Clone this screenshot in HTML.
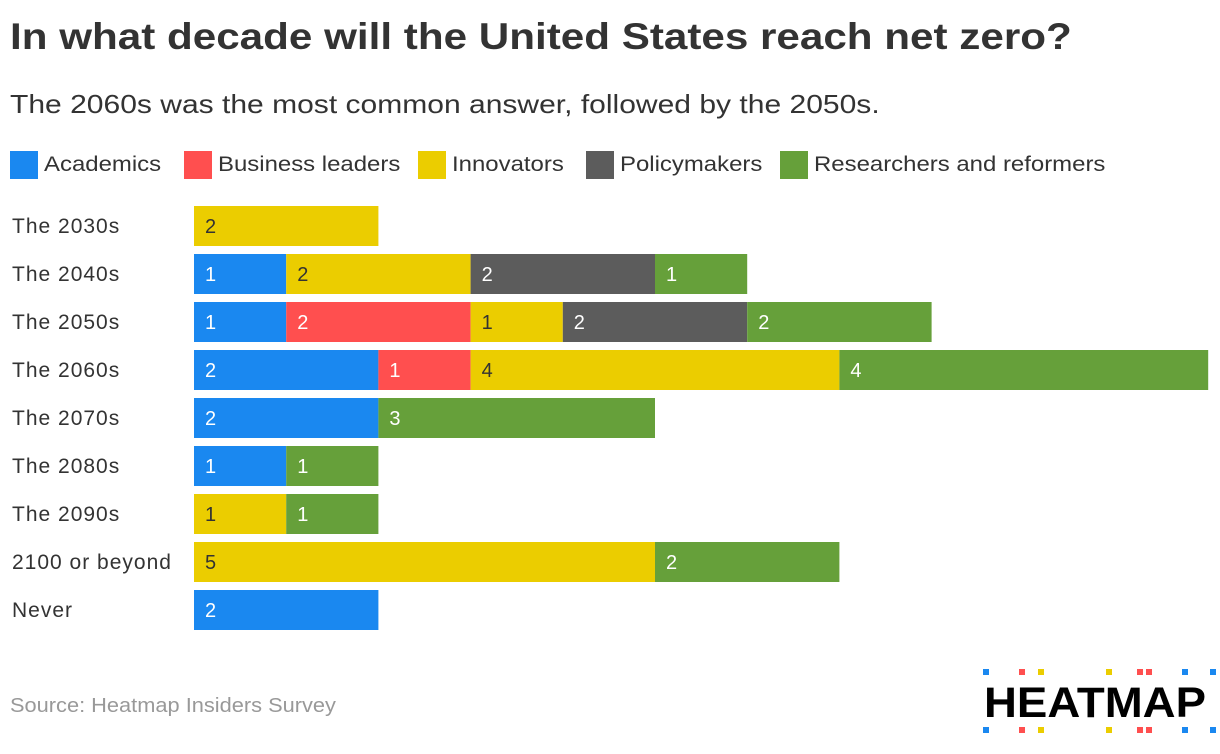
<!DOCTYPE html>
<html><head><meta charset="utf-8"><style>
body{margin:0;width:1220px;height:754px;background:#fff;font-family:"Liberation Sans",sans-serif;color:#333;position:relative;overflow:hidden}
.t{position:absolute;white-space:nowrap;transform-origin:0 0}
.leg{position:absolute;top:151px;height:28px;display:flex;align-items:center;font-size:21px;color:#333;white-space:nowrap}
.leg span{display:inline-block;transform:scaleX(1.14);transform-origin:0 50%}
.sw{width:28px;height:28px;margin-right:6px}
</style></head><body>
<div class="t" style="left:10px;top:16px;font-size:37px;font-weight:bold;color:#333;transform:scaleX(1.14)">In what decade will the United States reach net zero?</div>
<div class="t" style="left:10px;top:89px;font-size:26px;color:#333;transform:scaleX(1.155)">The 2060s was the most common answer, followed by the 2050s.</div>
<div id="legend"></div>
<svg id="chart" width="1220" height="754" style="position:absolute;left:0;top:0"></svg>
<div class="t" style="left:10px;top:695px;font-size:20px;color:#999;transform:scaleX(1.09)">Source: Heatmap Insiders Survey</div>
<div style="position:absolute;left:976px;top:664px;width:240px;height:80px">
<div class="t" style="left:8px;top:15px;font-size:43px;font-weight:bold;color:#000;transform:scaleX(1.06)">HEATMAP</div>
<svg width="240" height="80" style="position:absolute;left:0;top:0" id="logodots"></svg>
</div>
<script>
const categories=["The 2030s","The 2040s","The 2050s","The 2060s","The 2070s","The 2080s","The 2090s","2100 or beyond","Never"];
const seriesNames=["Academics","Business leaders","Innovators","Policymakers","Researchers and reformers"];
const academics=[0,1,1,2,2,1,0,0,2];
const business=[0,0,2,1,0,0,0,0,0];
const innovators=[2,2,1,4,0,0,1,5,0];
const policymakers=[0,2,2,0,0,0,0,0,0];
const researchers=[0,1,2,4,3,1,1,2,0];
const series=[academics,business,innovators,policymakers,researchers];
const colors=["#1a88f0","#ff4f4f","#ebcd00","#5c5c5c","#66a03a"];
const textColors=["#fff","#fff","#333","#fff","#fff"];
const ns="http://www.w3.org/2000/svg";
const svg=document.getElementById('chart');
const x0=194,unit=92.2,y0=206,step=48,bh=40;
const xs=v=>x0+v*unit;
const ys=i=>y0+i*step;
const lg=document.getElementById('legend');
const legX=[10,184,418,586,780];
seriesNames.forEach((n,i)=>{
 const d=document.createElement('div');d.className='leg';d.style.left=legX[i]+'px';
 
 
 d.innerHTML='<div class="sw" style="background:'+colors[i]+'"></div><span>'+n+'</span>';
 lg.appendChild(d);
});
categories.forEach((c,i)=>{
 const t=document.createElementNS(ns,'text');
 t.setAttribute('x',12);t.setAttribute('y',ys(i)+bh/2+7);
 t.setAttribute('font-size','21');t.setAttribute('fill','#333');
 t.setAttribute('letter-spacing','1');
 t.textContent=c;
 
 
 svg.appendChild(t);
 let acc=0;
 series.forEach((s,j)=>{
  const v=s[i];if(!v)return;
  const r=document.createElementNS(ns,'rect');
  r.setAttribute('x',xs(acc));r.setAttribute('y',ys(i));
  r.setAttribute('width',xs(acc+v)-xs(acc));r.setAttribute('height',bh);
  r.setAttribute('fill',colors[j]);
  
  
  svg.appendChild(r);
  const l=document.createElementNS(ns,'text');
  l.setAttribute('x',xs(acc)+11);l.setAttribute('y',ys(i)+bh/2+7);
  l.setAttribute('font-size','20');l.setAttribute('fill',textColors[j]);
  l.textContent=v;
  
  
  svg.appendChild(l);
  acc+=v;
 });
});
const ld=document.getElementById('logodots');
const dots=[[7,"#1a88f0"],[43,"#ff4f4f"],[62,"#ebcd00"],[130,"#ebcd00"],[161,"#ff4f4f"],[170,"#ff4f4f"],[206,"#1a88f0"],[234,"#1a88f0"]];
dots.forEach(([dx,col])=>{[5,63].forEach(dy=>{
 const r=document.createElementNS(ns,'rect');
 r.setAttribute('x',dx);r.setAttribute('y',dy);r.setAttribute('width',6);r.setAttribute('height',6);r.setAttribute('fill',col);
 ld.appendChild(r);});});
</script>
</body></html>
